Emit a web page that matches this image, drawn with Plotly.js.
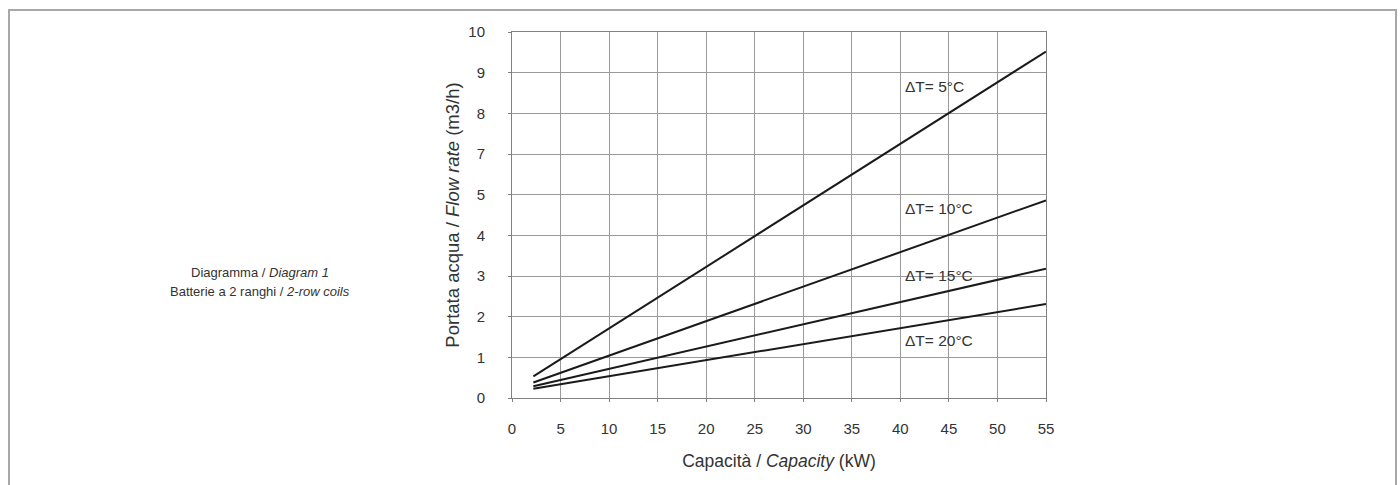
<!DOCTYPE html>
<html>
<head>
<meta charset="utf-8">
<script src="https://cdn.plot.ly/plotly-3.0.1.min.js"></script>
<style>
  html, body { margin: 0; padding: 0; background: #fff; }
  #chart { width: 1400px; height: 485px; }
</style>
</head>
<body>
<div id="chart"></div>
<script>
// Capacity (kW) at the start and end of each line
const capacity = [2.2, 55];
// Flow rate, read against the chart's grid rows (row index 0..9)
const flowDT5  = [0.53, 8.52];
const flowDT10 = [0.38, 4.86];
const flowDT15 = [0.29, 3.18];
const flowDT20 = [0.23, 2.31];
// The y grid rows and the labels printed on them (the original skips "6")
const yRows   = [0, 1, 2, 3, 4, 5, 6, 7, 8, 9];
const yLabels = ['0', '1', '2', '3', '4', '5', '7', '8', '9', '10'];
const xTicks  = [0, 5, 10, 15, 20, 25, 30, 35, 40, 45, 50, 55];
const seriesNames = ['ΔT= 5°C', 'ΔT= 10°C', 'ΔT= 15°C', 'ΔT= 20°C'];
const seriesData  = [flowDT5, flowDT10, flowDT15, flowDT20];
// label anchor positions (x in kW, y in grid rows)
const labelX = [40.3, 40.3, 40.3, 40.3];
const labelY = [7.65, 4.67, 3.02, 1.42];

const FONT = 'Liberation Sans, Arial, Helvetica, sans-serif';

const traces = seriesData.map((ys, i) => ({
  type: 'scatter', mode: 'lines', name: seriesNames[i],
  x: capacity, y: ys,
  line: { color: '#1a1a1a', width: 2 },
  hoverinfo: 'x+y+name'
}));

const annotations = seriesNames.map((t, i) => ({
  text: t, x: labelX[i], y: labelY[i], xref: 'x', yref: 'y',
  xanchor: 'left', yanchor: 'middle', showarrow: false,
  font: { family: FONT, size: 15.5, color: '#333' }
}));

const L = 512, R = 1046, T = 32, B = 398;
const W = R - L, H = B - T;
const px = v => (v - L) / W;
const py = v => (B - v) / H;

annotations.push({
  text: 'Diagramma / <i>Diagram 1</i>', xref: 'paper', yref: 'paper',
  x: px(260), y: py(272), xanchor: 'center', yanchor: 'middle', showarrow: false,
  font: { family: FONT, size: 13, color: '#333' }
});
annotations.push({
  text: 'Batterie a 2 ranghi / <i>2-row coils</i>', xref: 'paper', yref: 'paper',
  x: px(260), y: py(291), xanchor: 'center', yanchor: 'middle', showarrow: false,
  font: { family: FONT, size: 13, color: '#333' }
});

const layout = {
  width: 1400, height: 485,
  margin: { l: L, r: 1400 - R, t: T, b: 485 - B, pad: 0 },
  paper_bgcolor: '#fff', plot_bgcolor: '#fff',
  showlegend: false,
  font: { family: FONT, color: '#333' },
  xaxis: {
    range: [0, 55], tickvals: xTicks, ticktext: xTicks.map(String),
    showgrid: true, gridcolor: '#9a9a9a', gridwidth: 1,
    showline: true, linecolor: '#808080', linewidth: 1, mirror: true,
    zeroline: false,
    ticks: 'outside', ticklen: 3, tickcolor: '#808080',
    ticklabelstandoff: 14,
    tickfont: { family: FONT, size: 15, color: '#333' },
    title: { text: 'Capacità / <i>Capacity</i> (kW)', standoff: 18,
             font: { family: FONT, size: 17.5, color: '#333' } },
    automargin: false, fixedrange: true
  },
  yaxis: {
    range: [0, 9], tickvals: yRows, ticktext: yLabels,
    showgrid: true, gridcolor: '#9a9a9a', gridwidth: 1,
    showline: true, linecolor: '#808080', linewidth: 1, mirror: true,
    zeroline: false,
    ticks: 'outside', ticklen: 3, tickcolor: '#808080',
    ticklabelstandoff: 20,
    tickfont: { family: FONT, size: 15, color: '#333' },
    title: { text: 'Portata acqua / <i>Flow rate</i> (m3/h)', standoff: 3,
             font: { family: FONT, size: 18.5, color: '#333' } },
    automargin: false, fixedrange: true
  },
  annotations: annotations,
  shapes: [{
    type: 'rect', xref: 'paper', yref: 'paper', layer: 'below',
    x0: px(9), x1: px(1396), y0: py(500), y1: py(10),
    line: { color: '#a8a8a8', width: 2 }, fillcolor: 'rgba(0,0,0,0)'
  }]
};

Plotly.newPlot('chart', traces, layout, { displayModeBar: false, staticPlot: true });
</script>
</body>
</html>
